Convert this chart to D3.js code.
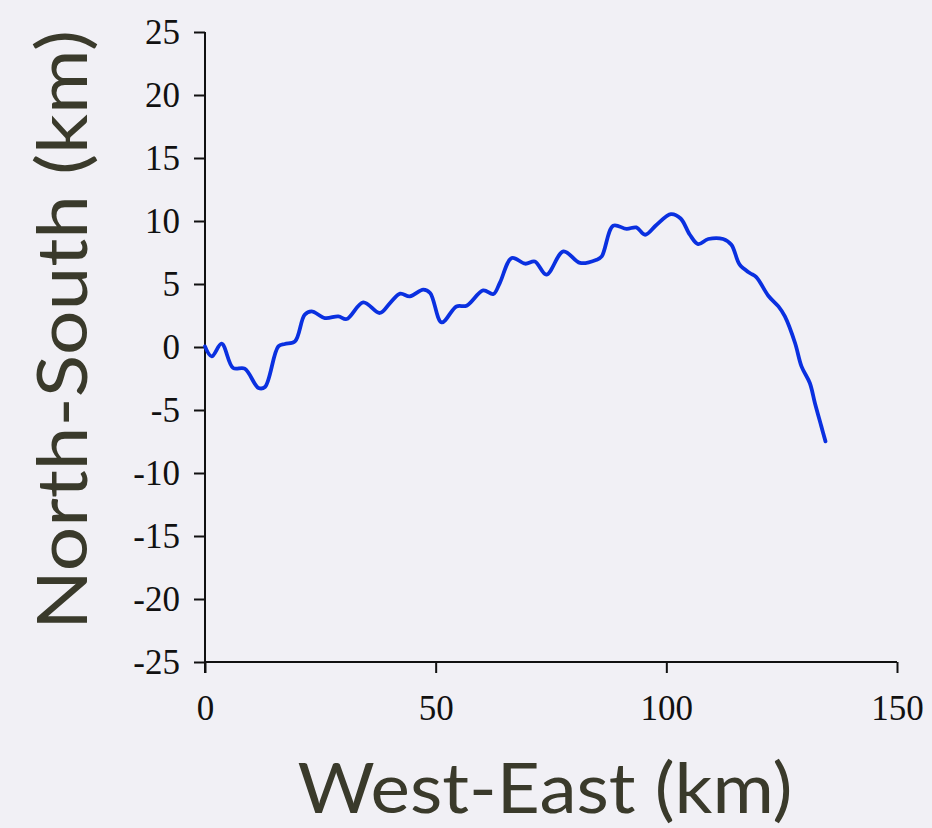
<!DOCTYPE html>
<html>
<head>
<meta charset="utf-8">
<script src="https://cdn.jsdelivr.net/npm/d3@7"></script>
<style>
  html, body { margin: 0; padding: 0; background: #f1f0f5; }
  svg { display: block; }
</style>
</head>
<body>
<svg id="chart" width="932" height="828"></svg>
<script>
// West-East (km)
const westEast = [0, 1.45, 3.6, 6.1, 8.6, 11.6, 13.0, 15.9, 17.3, 19.5, 21.6, 23.1, 26.0, 28.9, 30.7,
  34.3, 37.9, 40.1, 42.3, 44.4, 47.3, 48.8, 51.3, 54.5, 56.7, 60.3, 62.5, 63.9, 66.5, 69.4, 71.5,
  74.0, 77.7, 81.3, 84.9, 86.0, 88.5, 91.4, 93.5, 95.4, 97.9, 101.0, 103.1, 105.1, 106.9, 109.1,
  112.3, 114.1, 115.9, 118.1, 119.5, 122.1, 124.3, 125.7, 127.9, 129.3, 131.1, 132.2, 133.6, 134.5];
// North-South (km)
const northSouth = [0.05, -0.75, 0.26, -1.67, -1.72, -3.25, -3.17, 0.05, 0.24, 0.44, 2.56, 2.83, 2.3, 2.43, 2.22,
  3.54, 2.70, 3.49, 4.23, 4.02, 4.55, 4.29, 1.95, 3.22, 3.28, 4.49, 4.2, 5.08, 7.06, 6.61, 6.79,
  5.74, 7.59, 6.67, 6.93, 7.19, 9.63, 9.37, 9.49, 8.91, 9.71, 10.55, 10.2, 8.91, 8.17, 8.57,
  8.57, 8.12, 6.53, 5.87, 5.55, 4.07, 3.22, 2.43, 0.32, -1.54, -2.86, -4.44, -6.3, -7.49];
const xTicks = [0, 50, 100, 150];
const yTicks = [25, 20, 15, 10, 5, 0, -5, -10, -15, -20, -25];
const xLabel = "West-East (km)";
const yLabel = "North-South (km)";

const svg = d3.select("#chart");
const x = d3.scaleLinear().domain([0, 150]).range([205, 897]);
const y = d3.scaleLinear().domain([-25, 25]).range([662, 32]);

const tickFont = "'Liberation Serif', 'Times New Roman', serif";
const fmt = d => String(d);

// Y axis
const yAxis = svg.append("g").attr("transform", "translate(205,0)")
  .call(d3.axisLeft(y).tickValues(yTicks).tickFormat(fmt).tickSize(11).tickPadding(14).tickSizeOuter(0));
// X axis
const xAxis = svg.append("g").attr("transform", "translate(0,662)")
  .call(d3.axisBottom(x).tickValues(xTicks).tickFormat(fmt).tickSize(11).tickPadding(22).tickSizeOuter(0));

[xAxis, yAxis].forEach(g => {
  g.select(".domain").attr("stroke", "#111").attr("stroke-width", 2);
  g.selectAll(".tick line").attr("stroke", "#111").attr("stroke-width", 2);
  g.selectAll(".tick text").attr("fill", "#111").style("font-family", tickFont).style("font-size", "35px");
});
yAxis.select(".domain").attr("d", `M0,${y(25)}V${662 + 11}`);
xAxis.select(".domain").attr("d", `M${x(0)},0H${x(150)}`);

// line
const line = d3.line()
  .x((d, i) => x(westEast[i]))
  .y(d => y(d))
  .curve(d3.curveCatmullRom.alpha(0.5));
svg.append("path")
  .datum(northSouth)
  .attr("d", line)
  .attr("fill", "none")
  .attr("stroke", "#0a30e0")
  .attr("stroke-width", 3.8)
  .attr("stroke-linejoin", "round")
  .attr("stroke-linecap", "round");

const labelFont = "Lato, 'Open Sans', sans-serif";
svg.append("text")
  .attr("x", 545).attr("y", 813)
  .attr("text-anchor", "middle")
  .attr("fill", "#3a3a2b")
  .style("font-family", labelFont).style("font-size", "70px").style("font-weight", 400)
  .attr("textLength", 495).attr("lengthAdjust", "spacingAndGlyphs")
  .text(xLabel);
svg.append("text")
  .attr("transform", "translate(87,330) rotate(-90)")
  .attr("text-anchor", "middle")
  .attr("fill", "#3a3a2b")
  .style("font-family", labelFont).style("font-size", "70px").style("font-weight", 400)
  .attr("textLength", 600).attr("lengthAdjust", "spacingAndGlyphs")
  .text(yLabel);
</script>
</body>
</html>
